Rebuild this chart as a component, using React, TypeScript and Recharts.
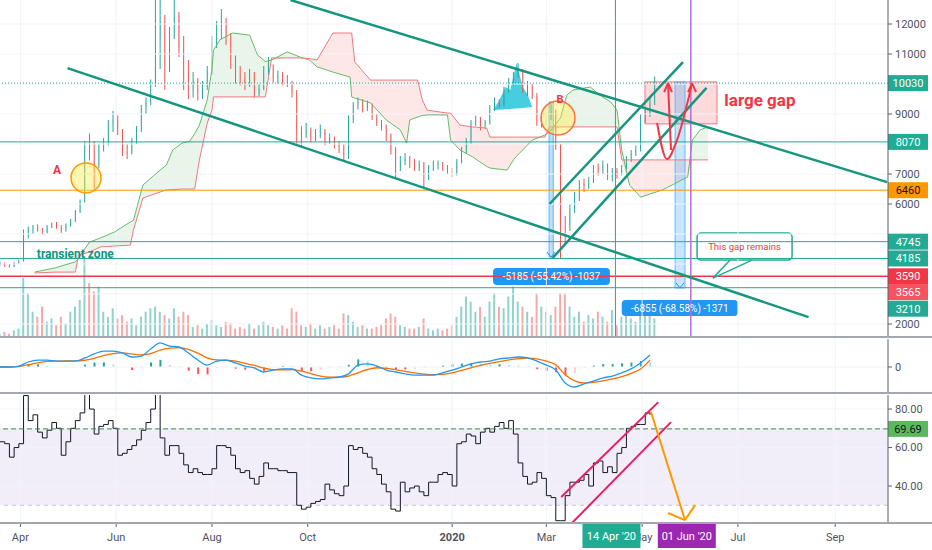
import React from 'react'
import {
  ComposedChart,
  Bar,
  Line,
  Area,
  XAxis,
  YAxis,
  ReferenceLine,
  ReferenceArea,
  ReferenceDot,
} from 'recharts'

// x axis is a day index counted from 19 Mar 2019
const monthDays = [13, 74, 135, 196, 288, 348, 409, 470, 532]
const monthLabels = ['Apr', 'Jun', 'Aug', 'Oct', '2020', 'Mar', 'May', 'Jul', 'Sep']

// 3-day candles [open, high, low, close]
const candles: [number, number, number, number][] = [
  [4000, 4080, 3950, 4020], [4020, 4050, 3900, 3960], [3960, 4000, 3880, 3920], [3920, 4060, 3900, 4030],
  [4030, 4150, 4000, 4100], [4100, 5150, 4080, 4950], [4950, 5250, 4850, 5150], [5150, 5300, 5000, 5220],
  [5220, 5320, 5080, 5150], [5150, 5200, 4980, 5050], [5050, 5300, 5020, 5250], [5250, 5380, 5200, 5320],
  [5320, 5400, 5180, 5250], [5250, 5300, 5030, 5100], [5100, 5350, 5080, 5300], [5300, 5500, 5250, 5450],
  [5450, 5800, 5400, 5750], [5750, 6150, 5700, 6100], [6100, 8100, 6050, 7900], [7900, 8350, 7450, 7800],
  [7800, 8100, 6500, 7300], [7300, 8000, 7200, 7950], [7950, 8200, 7750, 8050], [8050, 8800, 7950, 8650],
  [8650, 9100, 8400, 8800], [8800, 8950, 8300, 8450], [8450, 8500, 7600, 7750], [7750, 8000, 7500, 7700],
  [7700, 8200, 7650, 8100], [8100, 8600, 8000, 8450], [8450, 9300, 8400, 9200], [9200, 9550, 9000, 9400],
  [9400, 10150, 9300, 10000], [10000, 13000, 9900, 11500], [11500, 13500, 10500, 12100], [12100, 12300, 9800, 10600],
  [10600, 11900, 10400, 11700], [11700, 13200, 11500, 12300], [12300, 12400, 10900, 11200], [11200, 11600, 9800, 10300],
  [10300, 10800, 9500, 9800], [9800, 10400, 9550, 10100], [10100, 10200, 9450, 9700], [9700, 10100, 9500, 9900],
  [9900, 10600, 9800, 10450], [10450, 11600, 10300, 11400], [11400, 12100, 11200, 11900], [11900, 12500, 11500, 12050],
  [12050, 12200, 11300, 11550], [11550, 11700, 10500, 10800], [10800, 10950, 10000, 10300], [10300, 10600, 9950, 10200],
  [10200, 10400, 9800, 10000], [10000, 10500, 9900, 10300], [10300, 10400, 9550, 9700], [9700, 10000, 9600, 9850],
  [9850, 10600, 9800, 10450], [10450, 10900, 10300, 10550], [10550, 10650, 10050, 10200], [10200, 10450, 10000, 10300],
  [10300, 10400, 9950, 10100], [10100, 10300, 9900, 10000], [10000, 10100, 9550, 9700], [9700, 9800, 8000, 8400],
  [8400, 8600, 7900, 8300], [8300, 8700, 8200, 8450], [8450, 8550, 8050, 8200], [8200, 8500, 8100, 8300],
  [8300, 8650, 8200, 8450], [8450, 8500, 7950, 8100], [8100, 8350, 8000, 8200], [8200, 8250, 7850, 8000],
  [8000, 8100, 7700, 7900], [7900, 8000, 7450, 7600], [7600, 8950, 7500, 8800], [8800, 9400, 8700, 9300],
  [9300, 9550, 9150, 9400], [9400, 9500, 9050, 9200], [9200, 9450, 9100, 9300], [9300, 9350, 8800, 8900],
  [8900, 9000, 8600, 8700], [8700, 8800, 8450, 8600], [8600, 8650, 8100, 8300], [8300, 8350, 7650, 7800],
  [7800, 7900, 6850, 7200], [7200, 7600, 7100, 7400], [7400, 7700, 7300, 7550], [7550, 7600, 7200, 7300],
  [7300, 7500, 7100, 7200], [7200, 7450, 7100, 7350], [7350, 7400, 6550, 6900], [6900, 7300, 6800, 7200],
  [7200, 7450, 7100, 7300], [7300, 7450, 7150, 7350], [7350, 7400, 7100, 7200], [7200, 7300, 7000, 7100],
  [7100, 7200, 6900, 7000], [7000, 7500, 6950, 7400], [7400, 7900, 7350, 7800], [7800, 8200, 7700, 8100],
  [8100, 8800, 8000, 8700], [8700, 8950, 8600, 8800], [8800, 8900, 8450, 8600], [8600, 8800, 8500, 8700],
  [8700, 9300, 8650, 9200], [9200, 9550, 9100, 9400], [9400, 9500, 9200, 9300], [9300, 9900, 9250, 9800],
  [9800, 10200, 9700, 10100], [10100, 10400, 9950, 10300], [10300, 10700, 10200, 10400], [10400, 10500, 9700, 9800],
  [9800, 10100, 9600, 9900], [9900, 10000, 9500, 9600], [9600, 9700, 8600, 8700], [8700, 8950, 8550, 8800],
  [8800, 9050, 8650, 8900], [8900, 9350, 8800, 9100], [9100, 9150, 7800, 7900], [7900, 8000, 4200, 5400],
  [5400, 5600, 4700, 5300], [5300, 6000, 5100, 5800], [5800, 6400, 5700, 6200], [6200, 6800, 6100, 6700],
  [6700, 6850, 6400, 6600], [6600, 6900, 6500, 6800], [6800, 7300, 6700, 7200], [7200, 7350, 6950, 7100],
  [7100, 7450, 7000, 7300], [7300, 7350, 6800, 6900], [6900, 7200, 6750, 7100], [7100, 7200, 6850, 7000],
  [7000, 7300, 6950, 7200], [7200, 7600, 7150, 7500], [7500, 7800, 7400, 7700], [7700, 7950, 7600, 7800],
  [7800, 9000, 7750, 8900], [8900, 9150, 8700, 9000], [9000, 9600, 8900, 9400], [9400, 10250, 9300, 9850],
]

const volumes = [
  2, 3, 2, 4, 5, 35, 26, 15, 12, 18, 9, 11, 7, 12, 8, 15, 18, 22, 48, 32,
  27, 30, 15, 12, 17, 11, 13, 9, 11, 7, 12, 15, 17, 18, 15, 13, 11, 17, 12, 15,
  13, 6, 7, 5, 8, 10, 7, 6, 9, 8, 5, 6, 5, 8, 5, 7, 9, 7, 6, 5,
  7, 5, 17, 15, 7, 6, 8, 5, 7, 5, 6, 7, 5, 14, 13, 9, 6, 7, 5, 5,
  6, 7, 11, 14, 12, 7, 6, 5, 5, 6, 11, 5, 4, 5, 4, 5, 7, 12, 18, 24,
  21, 15, 18, 12, 21, 26, 18, 17, 24, 30, 21, 18, 15, 12, 26, 18, 15, 13, 18, 26,
  26, 18, 12, 15, 9, 13, 11, 15, 12, 9, 16, 7, 12, 18, 11, 9, 21, 17, 22, 11,
]

// Ichimoku cloud, leading spans A and B
const cloudDays = [
  22, 35, 48, 50, 57, 64, 73, 83, 85, 91, 102, 106, 110, 116, 121, 124, 127, 132, 135, 136,
  140, 148, 159, 164, 169, 173, 183, 191, 197, 202, 212, 223, 224, 226, 236, 246, 255, 259, 261, 266,
  269, 272, 285, 287, 293, 301, 310, 312, 323, 327, 331, 339, 347, 350, 357, 361, 365, 376, 382, 389,
  393, 396, 401, 408, 422, 438, 441, 446, 451,
]
const spanA = [
  3730, 3870, 4070, 4200, 4730, 4870, 5070, 5400, 5450, 6630, 7130, 7300, 7800, 8030, 8100, 8350, 8630, 9470, 10500, 11130,
  11470, 11700, 11630, 10970, 10750, 10800, 11070, 10900, 10800, 10570, 10400, 10230, 9570, 9530, 9370, 8800, 8470, 8030, 8800, 8900,
  8950, 8970, 8970, 8130, 7800, 7570, 7250, 7200, 7130, 7470, 7700, 8130, 8300, 8400, 8870, 9630, 9800, 9900, 9630, 9400,
  9130, 7800, 6630, 6230, 6470, 6900, 8130, 8470, 8570,
]
const spanB = [
  3700, 3730, 3730, 4300, 4400, 4570, 4600, 4630, 5130, 6200, 6400, 6470, 6480, 6500, 6500, 6500, 7470, 8700, 9130, 9570,
  9570, 9570, 9570, 9570, 9570, 10870, 10870, 10870, 10850, 10800, 11700, 11700, 11700, 10730, 10130, 10130, 10130, 10130, 10130, 10130,
  9470, 9130, 9030, 9030, 8630, 8570, 8530, 8230, 8230, 8230, 8230, 8230, 8230, 8570, 8570, 8570, 8570, 8570, 8570, 8570,
  8570, 7470, 7470, 7470, 7470, 7470, 7470, 7470, 7470,
]

// MACD on a 6-day step
const macdValues = [
  0, 0, 50, 260, 360, 360, 310, 310, 310, 470, 680, 830, 830, 730, 520, 570, 940, 1250, 1090, 1040,
  730, 360, 100, 310, 360, 210, 50, -50, -260, -160, -100, -100, -420, -570, -620, -570, -520, -360, 100, 160,
  50, -160, -260, -360, -420, -420, -420, -310, -160, 0, 160, 260, 310, 420, 470, 520, 470, 310, 100, -160,
  -830, -1040, -880, -730, -570, -470, -310, -100, 210, 620,
]
const signalValues = [
  0, 0, 20, 120, 220, 290, 310, 320, 320, 350, 450, 590, 700, 730, 680, 630, 700, 880, 980, 1010,
  920, 720, 480, 370, 350, 300, 190, 80, -60, -140, -150, -140, -220, -350, -470, -530, -530, -470, -300, -130,
  -40, -70, -140, -230, -310, -370, -400, -380, -300, -180, -40, 80, 190, 280, 370, 440, 460, 420, 300, 110,
  -400, -720, -830, -800, -720, -620, -500, -330, -100, 360,
]

// RSI on a 3-day step
const rsiValues = [
  63, 62, 55, 60, 62, 87, 74, 77, 68, 65, 69, 73, 70, 56, 63, 70, 74, 78, 88, 80,
  67, 71, 72, 74, 70, 56, 57, 59, 61, 64, 69, 73, 80, 88, 65, 56, 61, 61, 57, 51,
  47, 49, 47, 46, 46, 49, 61, 61, 60, 56, 49, 47, 48, 44, 41, 45, 52, 49, 49, 48,
  48, 47, 47, 30, 28, 29, 31, 32, 33, 41, 38, 36, 35, 40, 61, 59, 60, 57, 55, 49,
  46, 41, 37, 28, 27, 42, 37, 39, 40, 37, 35, 42, 42, 46, 47, 46, 40, 62, 63, 67,
  66, 62, 68, 70, 68, 71, 73, 70, 74, 67, 52, 45, 41, 42, 47, 44, 35, 34, 22, 22,
  35, 42, 42, 43, 46, 40, 52, 53, 47, 50, 47, 57, 60, 70, 71, 72, 72, 78, 77,
]

const priceGrid = [2000, 3000, 4000, 5000, 6000, 7000, 8000, 9000, 10000, 11000, 12000]
const priceTicks = [2000, 6000, 7000, 9000, 11000, 12000]

const UP = '#26a69a'
const DOWN = '#ef5350'
const TEAL = '#22ab94'
const DRAW = '#16957f'
const RED = '#f23645'
const GRID = '#f0f3fa'
const AXIS = '#5d606b'
const TEXT = '#50535e'
const DAY_MAX = 565.6
const M = { top: 0, right: 0, bottom: 0, left: 0 }

const candleData = candles.map(([o, h, l, c], i) => ({
  d: i * 3, o, h, l, c, hl: [l, h], vol: volumes[i], up: c >= o,
}))
const cloudData = cloudDays.map((d, i) => {
  const a = spanA[i]
  const b = spanB[i]
  return { d, a, b, g: [Math.min(a, b), a], r: [Math.min(a, b), b] }
})
const macdData = macdValues.map((m, j) => {
  const hist = m - signalValues[j]
  const prev = j > 0 ? macdValues[j - 1] - signalValues[j - 1] : 0
  const col = hist >= 0 ? (hist >= prev ? UP : '#b2dfdb') : (hist < prev ? '#ff5252' : '#ffcdd2')
  return { d: j * 6, m, s: signalValues[j], hist, col }
})
const rsiData = rsiValues.map((r, i) => ({ d: i * 3, r }))

// annotation geometry (data space)
const cyanPatch = [
  { d: 314, v: [9130, 9130] }, { d: 318, v: [9140, 9450] }, { d: 322, v: [9155, 9900] },
  { d: 325, v: [9165, 9800] }, { d: 329, v: [9180, 10700] }, { d: 333, v: [9200, 9900] },
  { d: 336, v: [9215, 9650] }, { d: 339, v: [9230, 9230] },
]
const uCurve = [{ d: 418.5, p: 8700 }, { d: 424.8, p: 7500 }, { d: 431.2, p: 8130 }, { d: 440.8, p: 10030 }]

function Candle(props: any) {
  const { x, y, width, height, payload } = props
  if (x == null || !payload) return null
  const top = Math.min(y, y + height)
  const h = Math.abs(height)
  const k = h / (payload.h - payload.l || 1)
  const color = payload.c >= payload.o ? UP : DOWN
  const bTop = top + (payload.h - Math.max(payload.o, payload.c)) * k
  const bH = Math.max(1, Math.abs(payload.o - payload.c) * k)
  const cx = x + width / 2
  return (
    <g>
      <line x1={cx} x2={cx} y1={top} y2={top + h} stroke={color} strokeWidth={1} />
      <rect x={x} y={bTop} width={width} height={bH} fill={color} />
    </g>
  )
}

function VolumeBar(props: any) {
  const { x, y, width, height, payload } = props
  if (x == null || !payload) return null
  return (
    <rect x={x} y={Math.min(y, y + height)} width={width} height={Math.abs(height)}
      fill={payload.up ? UP : DOWN} fillOpacity={0.5} />
  )
}

function HistBar(props: any) {
  const { x, y, width, height, payload } = props
  if (x == null || !payload) return null
  return <rect x={x} y={Math.min(y, y + height)} width={width} height={Math.abs(height)} fill={payload.col} />
}

function PriceTag(props: any) {
  const { viewBox, text, bg, fg = '#fff', shift = 0 } = props
  if (!viewBox) return null
  const x = viewBox.x + viewBox.width
  const y = viewBox.y + shift
  return (
    <g>
      <rect x={x} y={y - 8} width={40} height={16} fill={bg} />
      <text x={x + 20} y={y + 4} textAnchor="middle" fontSize={11} fill={fg}>{text}</text>
    </g>
  )
}

function DateBadge(props: any) {
  const { viewBox, text, bg } = props
  if (!viewBox) return null
  const x = viewBox.x - 4
  const y = viewBox.y + viewBox.height + 1
  return (
    <g>
      <rect x={x - 29} y={y} width={58} height={24} fill={bg} />
      <text x={x} y={y + 16} textAnchor="middle" fontSize={11} fill="#fff">{text}</text>
    </g>
  )
}

function RoundBox(props: any) {
  const { x, y, width, height, fill, stroke } = props
  return <rect x={x} y={y} width={width} height={height} rx={4} fill={fill} stroke={stroke} strokeWidth={1.5} />
}

function MonthTick(props: any) {
  const { x, y, payload } = props
  const label = monthLabels[monthDays.indexOf(payload.value)]
  return (
    <text x={x} y={y + 12} textAnchor="middle" fontSize={11} fill={TEXT}
      fontWeight={label === '2020' ? 'bold' : 'normal'}>{label}</text>
  )
}

const seg = (x1: number, y1: number, x2: number, y2: number) => [{ x: x1, y: y1 }, { x: x2, y: y2 }]

function PricePane() {
  const levels = [
    { v: 10030, c: TEAL, dash: '1 2' },
    { v: 8070, c: TEAL },
    { v: 6460, c: '#ff9800' },
    { v: 4745, c: TEAL },
    { v: 4185, c: TEAL },
    { v: 3590, c: RED },
    { v: 3210, c: TEAL },
  ]
  const tags = [
    { v: 10030, bg: TEAL },
    { v: 8070, bg: TEAL },
    { v: 6460, bg: '#ff9800', fg: '#131722' },
    { v: 4745, bg: TEAL },
    { v: 4185, bg: TEAL },
    { v: 3590, bg: RED },
    { v: 3565, bg: '#f7525f', shift: 15 },
    { v: 3210, bg: TEAL, shift: 21 },
  ]
  return (
    <>
      <div style={{ position: 'absolute', left: 0, top: 0 }}>
        <ComposedChart width={932} height={337} data={candleData} margin={M}>
          <XAxis type="number" dataKey="d" domain={[0, DAY_MAX]} hide allowDataOverflow />
          <YAxis yAxisId="vol" orientation="right" width={44} domain={[0, 200]} tick={false} tickLine={false} axisLine={false} />
          <Bar yAxisId="vol" dataKey="vol" barSize={2} shape={VolumeBar} isAnimationActive={false} />
        </ComposedChart>
      </div>
      <div style={{ position: 'absolute', left: 0, top: 0 }}>
        <ComposedChart width={932} height={337} data={candleData} margin={M}>
          <XAxis type="number" dataKey="d" domain={[0, DAY_MAX]} hide allowDataOverflow />
          <YAxis orientation="right" width={44} domain={[1567, 12800]} allowDataOverflow ticks={priceTicks}
            interval={0} tickSize={4} tickMargin={3} tick={{ fontSize: 11, fill: TEXT }}
            tickLine={{ stroke: AXIS }} axisLine={{ stroke: AXIS }} />
          {priceGrid.map((v) => <ReferenceLine key={'g' + v} y={v} stroke={GRID} />)}
          {monthDays.map((d) => <ReferenceLine key={'m' + d} x={d} stroke={GRID} />)}

          <Area data={cloudData} dataKey="g" stroke="none" fill="#4caf50" fillOpacity={0.12}
            dot={false} activeDot={false} isAnimationActive={false} />
          <Area data={cloudData} dataKey="r" stroke="none" fill="#f44336" fillOpacity={0.12}
            dot={false} activeDot={false} isAnimationActive={false} />
          <Line data={cloudData} dataKey="a" stroke="#66bb6a" strokeWidth={1} dot={false} activeDot={false} isAnimationActive={false} />
          <Line data={cloudData} dataKey="b" stroke="#f0787f" strokeWidth={1} dot={false} activeDot={false} isAnimationActive={false} />
          <Area data={cyanPatch} dataKey="v" stroke="none" fill="#26c6da" fillOpacity={0.85}
            dot={false} activeDot={false} isAnimationActive={false} />

          {levels.map((l) => (
            <ReferenceLine key={'l' + l.v} y={l.v} stroke={l.c} strokeWidth={l.c === RED ? 1.5 : 1} strokeDasharray={l.dash} />
          ))}
          <ReferenceLine x={392} stroke={TEAL} />
          <ReferenceLine x={440} stroke="#b56fd0" strokeWidth={1.5} />

          <ReferenceArea x1={410.8} x2={456.7} y1={8670} y2={10070} fill={RED} fillOpacity={0.18} stroke="#f0787f" />
          <ReferenceArea x1={349.7} x2={352.4} y1={4230} y2={9400} fill="#2196f3" fillOpacity={0.3} stroke="#64b5f6" />
          <ReferenceArea x1={430} x2={436.3} y1={3200} y2={10070} fill="#2196f3" fillOpacity={0.25} stroke="#64b5f6" />
          <ReferenceLine segment={seg(348.4, 4400, 351, 4230)} stroke="#2196f3" ifOverflow="hidden" />
          <ReferenceLine segment={seg(353.6, 4400, 351, 4230)} stroke="#2196f3" ifOverflow="hidden" />
          <ReferenceLine segment={seg(430.6, 3370, 433.1, 3200)} stroke="#2196f3" ifOverflow="hidden" />
          <ReferenceLine segment={seg(435.6, 3370, 433.1, 3200)} stroke="#2196f3" ifOverflow="hidden" />

          <Bar dataKey="hl" barSize={3} shape={Candle} isAnimationActive={false} />

          <ReferenceLine segment={seg(185, 12800, 565, 6730)} stroke={DRAW} strokeWidth={2.5} ifOverflow="hidden" />
          <ReferenceLine segment={seg(43, 10530, 515, 2230)} stroke={DRAW} strokeWidth={2.5} ifOverflow="hidden" />
          <ReferenceLine segment={seg(350, 6000, 435, 10730)} stroke={DRAW} strokeWidth={2.5} ifOverflow="hidden" />
          <ReferenceLine segment={seg(352, 4200, 450, 9870)} stroke={DRAW} strokeWidth={2.5} ifOverflow="hidden" />

          <Line data={uCurve} dataKey="p" type="monotone" stroke={RED} strokeWidth={2} dot={false} activeDot={false} isAnimationActive={false} />
          <ReferenceLine segment={seg(425.5, 10000, 427.4, 7800)} stroke={RED} strokeWidth={2} ifOverflow="hidden" />
          <ReferenceLine segment={seg(423, 9730, 425.5, 10030)} stroke={RED} strokeWidth={2} ifOverflow="hidden" />
          <ReferenceLine segment={seg(428, 9730, 425.5, 10030)} stroke={RED} strokeWidth={2} ifOverflow="hidden" />
          <ReferenceLine segment={seg(438.3, 9730, 440.8, 10030)} stroke={RED} strokeWidth={2} ifOverflow="hidden" />
          <ReferenceLine segment={seg(443.3, 9730, 440.8, 10030)} stroke={RED} strokeWidth={2} ifOverflow="hidden" />

          <ReferenceDot x={54.8} y={6870} r={15} fill="#ffeb3b" fillOpacity={0.4} stroke="#ff9800" strokeWidth={1.5} />
          <ReferenceDot x={355.4} y={8870} r={17} fill="#ffeb3b" fillOpacity={0.4} stroke="#ff7043" strokeWidth={1.5} />
          <ReferenceDot x={36.3} y={7130} r={0} label={{ value: 'A', position: 'center', fill: RED, fontSize: 12, fontWeight: 'bold' }} />
          <ReferenceDot x={356.7} y={9500} r={0} label={{ value: 'B', position: 'center', fill: RED, fontSize: 11, fontWeight: 'bold' }} />
          <ReferenceDot x={48} y={4330} r={0} label={{ value: 'transient zone', position: 'center', fill: '#12957f', fontSize: 12, fontWeight: 'bold' }} />
          <ReferenceDot x={484} y={9470} r={0} label={{ value: 'large gap', position: 'center', fill: RED, fontSize: 17, fontWeight: 'bold' }} />

          <ReferenceArea x1={314} x2={388.5} y1={3300} y2={3870} fill="#2196f3" shape={RoundBox}
            label={{ value: '-5185 (-55.42%) -1037', position: 'center', fill: '#fff', fontSize: 10 }} />
          <ReferenceArea x1={396} x2={470} y1={2270} y2={2800} fill="#2196f3" shape={RoundBox}
            label={{ value: '-6855 (-68.58%) -1371', position: 'center', fill: '#fff', fontSize: 10 }} />

          <ReferenceLine segment={seg(454.1, 3530, 465, 4130)} stroke={TEAL} strokeWidth={1.5} ifOverflow="hidden" />
          <ReferenceLine segment={seg(454.1, 3530, 479, 4130)} stroke={TEAL} strokeWidth={1.5} ifOverflow="hidden" />
          <ReferenceArea x1={444} x2={504.5} y1={4130} y2={5030} fill="#fff" stroke={TEAL} shape={RoundBox}
            label={{ value: 'This gap remains', position: 'center', fill: RED, fontSize: 9.5 }} />

          {tags.map((t) => (
            <ReferenceLine key={'t' + t.v} y={t.v} stroke="none"
              label={<PriceTag text={String(t.v)} bg={t.bg} fg={t.fg} shift={t.shift} />} />
          ))}
        </ComposedChart>
      </div>
    </>
  )
}

function MacdPane() {
  return (
    <div style={{ position: 'absolute', left: 0, top: 339 }}>
      <ComposedChart width={932} height={54} data={macdData} margin={M}>
        <XAxis type="number" dataKey="d" domain={[0, DAY_MAX]} hide allowDataOverflow />
        <YAxis orientation="right" width={44} domain={[-1352, 1456]} ticks={[0]} interval={0} tickSize={4} tickMargin={3}
          tick={{ fontSize: 11, fill: TEXT }} tickLine={{ stroke: AXIS }} axisLine={{ stroke: AXIS }} allowDataOverflow />
        {monthDays.map((d) => <ReferenceLine key={'m' + d} x={d} stroke={GRID} />)}
        <ReferenceLine y={0} stroke={GRID} />
        <Bar dataKey="hist" barSize={2} shape={HistBar} isAnimationActive={false} />
        <Line dataKey="s" type="monotone" stroke="#ff6d00" strokeWidth={1.3} dot={false} activeDot={false} isAnimationActive={false} />
        <Line dataKey="m" type="monotone" stroke="#2196f3" strokeWidth={1.3} dot={false} activeDot={false} isAnimationActive={false} />
      </ComposedChart>
    </div>
  )
}

function RsiPane() {
  return (
    <>
      <div style={{ position: 'absolute', left: 0, top: 395 }}>
        <ComposedChart width={932} height={155} data={rsiData} margin={M}>
          <XAxis type="number" dataKey="d" domain={[0, DAY_MAX]} ticks={monthDays} interval={0} height={27}
            axisLine={false} tickSize={4} tickLine={{ stroke: AXIS }} tick={<MonthTick />} allowDataOverflow />
          <YAxis orientation="right" width={44} domain={[20.8, 87.3]} ticks={[40, 60, 80]} interval={0}
            tickFormatter={(v) => Number(v).toFixed(2)} tickSize={4} tickMargin={3}
            tick={{ fontSize: 11, fill: TEXT }} tickLine={{ stroke: AXIS }} axisLine={{ stroke: AXIS }} allowDataOverflow />
          {monthDays.map((d) => <ReferenceLine key={'m' + d} x={d} stroke={GRID} />)}
          {[40, 60, 80].map((v) => <ReferenceLine key={'h' + v} y={v} stroke={GRID} />)}
          <ReferenceArea y1={30} y2={70} fill="#7e57c2" fillOpacity={0.1} stroke="none" />
          <ReferenceLine y={30} stroke="#c3c5cc" strokeDasharray="4 4" />
          <Line dataKey="r" type="stepAfter" stroke="#131722" strokeWidth={1} dot={false} activeDot={false} isAnimationActive={false} />
          <ReferenceLine y={69.69} stroke="#388e3c" strokeDasharray="5 3"
            label={<PriceTag text="69.69" bg="#5cb85c" fg="#131722" />} />

          <ReferenceLine segment={seg(357.5, 34.3, 419.3, 83.6)} stroke="#e91e63" strokeWidth={2} ifOverflow="hidden" />
          <ReferenceLine segment={seg(363, 19.7, 427.4, 73.2)} stroke="#e91e63" strokeWidth={2} ifOverflow="hidden" />
          <ReferenceLine segment={seg(414.6, 78.6, 436.3, 22.3)} stroke="#ff9800" strokeWidth={2} ifOverflow="hidden" />
          <ReferenceLine segment={seg(425.5, 26, 436.3, 22.3)} stroke="#ff9800" strokeWidth={2} ifOverflow="hidden" />
          <ReferenceLine segment={seg(442.7, 30.1, 436.3, 22.3)} stroke="#ff9800" strokeWidth={2} ifOverflow="hidden" />
        </ComposedChart>
      </div>
      {/* date badges sit on top of the axis labels */}
      <div style={{ position: 'absolute', left: 0, top: 395 }}>
        <ComposedChart width={932} height={155} data={rsiData} margin={M}>
          <XAxis type="number" dataKey="d" domain={[0, DAY_MAX]} height={27} tick={false} tickLine={false} axisLine={false} allowDataOverflow />
          <YAxis orientation="right" width={44} domain={[20.8, 87.3]} tick={false} tickLine={false} axisLine={false} allowDataOverflow />
          <Line dataKey="r" stroke="none" dot={false} activeDot={false} isAnimationActive={false} />
          <ReferenceLine x={392} stroke="none" ifOverflow="visible" label={<DateBadge text="14 Apr '20" bg={TEAL} />} />
          <ReferenceLine x={440} stroke="none" ifOverflow="visible" label={<DateBadge text="01 Jun '20" bg="#9c27b0" />} />
        </ComposedChart>
      </div>
    </>
  )
}

export default function App() {
  return (
    <div style={{
      position: 'absolute', left: 0, top: 0, width: 932, height: 550, overflow: 'hidden',
      background: '#fff', fontFamily: 'Roboto, "Liberation Sans", sans-serif',
    }}>
      <PricePane />
      <div style={{ position: 'absolute', left: 0, top: 336, width: 932, height: 2, background: '#a3a6af' }} />
      <MacdPane />
      <div style={{ position: 'absolute', left: 0, top: 392, width: 932, height: 2, background: '#a3a6af' }} />
      <RsiPane />
      <div style={{ position: 'absolute', left: 0, top: 522, width: 932, height: 2, background: '#a3a6af' }} />
    </div>
  )
}
